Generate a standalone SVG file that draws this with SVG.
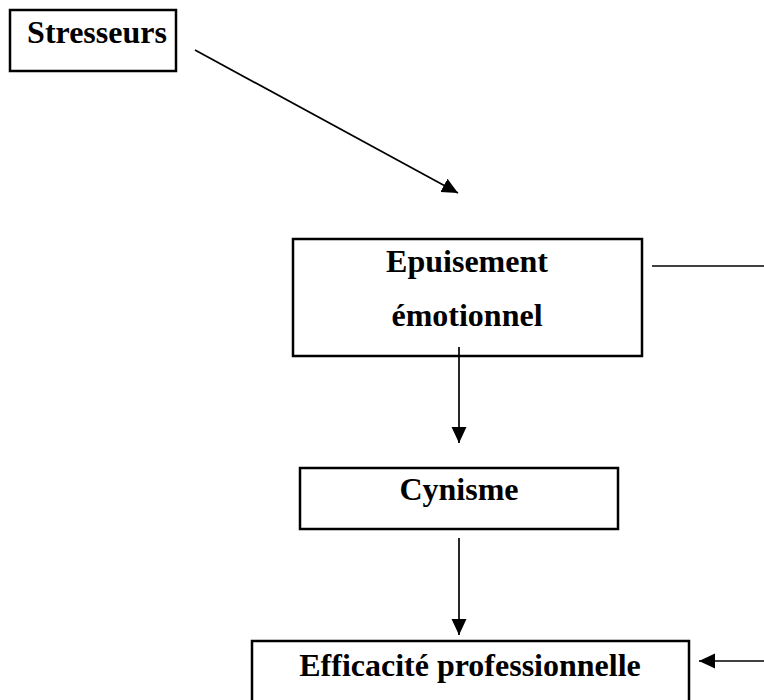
<svg xmlns="http://www.w3.org/2000/svg" width="764" height="700" viewBox="0 0 764 700">
<style>
.box{fill:#fff;stroke:#000;stroke-width:2.5}
.lbl{font-family:"Liberation Serif","Times New Roman",serif;font-weight:bold;font-size:32px;fill:#000;text-anchor:middle}
.conn{stroke:#000;stroke-width:1.7;fill:none}
</style>
<defs>
<marker id="ah" markerWidth="17" markerHeight="16" refX="16" refY="8" orient="auto" markerUnits="userSpaceOnUse">
<path d="M0,0.5 L16,8 L0,15.5 Z" fill="#000"/>
</marker>
</defs>
<rect width="764" height="700" fill="#fff"/>
<g id="stresseurs">
<rect class="box" x="10" y="10" width="166" height="61"/>
<text class="lbl" x="97" y="43">Stresseurs</text>
</g>
<g id="epuisement">
<rect class="box" x="293" y="239" width="349" height="117"/>
<text class="lbl" x="467" y="272">Epuisement</text>
<text class="lbl" x="467" y="326">émotionnel</text>
</g>
<g id="cynisme">
<rect class="box" x="300" y="468" width="318" height="61"/>
<text class="lbl" x="459" y="500">Cynisme</text>
</g>
<g id="efficacite">
<rect class="box" x="252" y="641" width="437" height="80"/>
<text class="lbl" x="470" y="676">Efficacité professionnelle</text>
</g>
<g id="connectors">
<line class="conn" x1="195" y1="50" x2="458" y2="193" marker-end="url(#ah)"/>
<line class="conn" x1="652" y1="266" x2="764" y2="266"/>
<line class="conn" x1="459" y1="347" x2="459" y2="443" marker-end="url(#ah)"/>
<line class="conn" x1="459" y1="538" x2="459" y2="635" marker-end="url(#ah)"/>
<line class="conn" x1="764" y1="661" x2="699" y2="661" marker-end="url(#ah)"/>
</g>
</svg>
